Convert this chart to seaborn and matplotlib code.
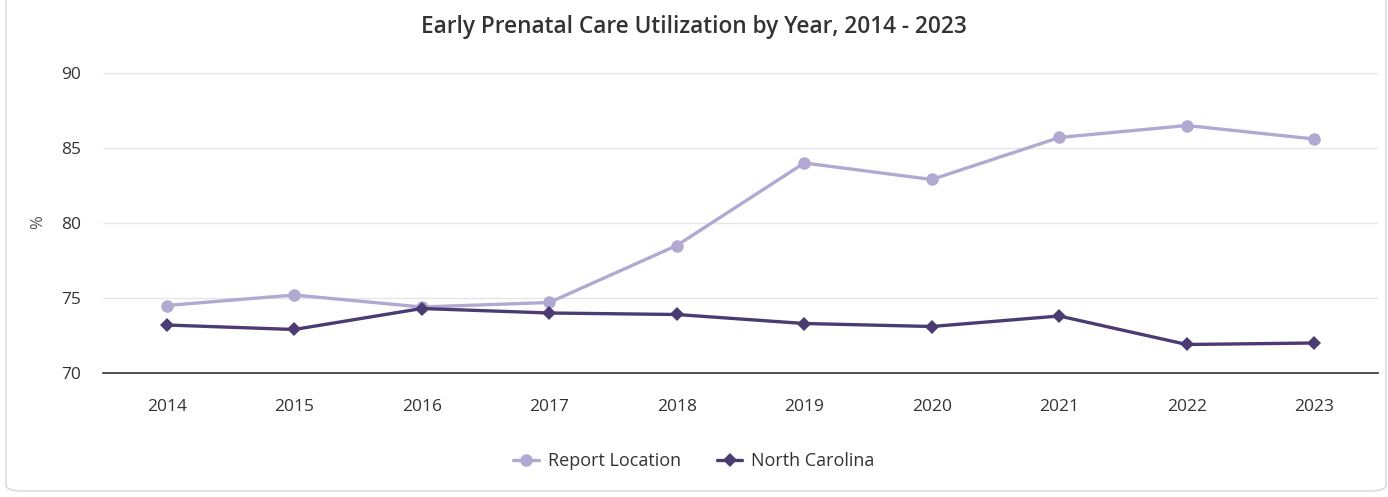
import matplotlib
matplotlib.use("Agg")
import matplotlib.pyplot as plt
from matplotlib.patches import FancyBboxPatch
from matplotlib.lines import Line2D
import seaborn as sns
import pandas as pd

years = ["2014", "2015", "2016", "2017", "2018", "2019", "2020", "2021", "2022", "2023"]
report_location = [74.5, 75.2, 74.4, 74.7, 78.5, 84.0, 82.9, 85.7, 86.5, 85.6]
north_carolina = [73.2, 72.9, 74.3, 74.0, 73.9, 73.3, 73.1, 73.8, 71.9, 72.0]
series_names = ["Report Location", "North Carolina"]
y_ticks = [70, 75, 80, 85, 90]
title = "Early Prenatal Care Utilization by Year, 2014 - 2023"

colors = {"Report Location": "#b2a9d2", "North Carolina": "#4a3c72"}
markers = {"Report Location": "o", "North Carolina": "D"}
msizes = {"Report Location": 9, "North Carolina": 7}

sns.set_theme(style="white")
plt.rcParams["font.family"] = ["Open Sans", "DejaVu Sans"]

df = pd.DataFrame({
    "Year": years * 2,
    "Value": report_location + north_carolina,
    "Series": [series_names[0]] * len(years) + [series_names[1]] * len(years),
})

fig = plt.figure(figsize=(13.88, 4.97), dpi=100)
ax = fig.add_axes([103 / 1388, 1 - 373 / 497, 1275 / 1388, 300 / 497])

fig.patches.append(FancyBboxPatch((6 / 1388, 6 / 497), 1380 / 1388, 500 / 497,
                                  boxstyle="round,pad=0,rounding_size=0.012",
                                  transform=fig.transFigure, facecolor="none",
                                  edgecolor="#dddddd", linewidth=1.2, zorder=-1))

for name in series_names:
    sub = df[df["Series"] == name]
    sns.lineplot(data=sub, x="Year", y="Value", ax=ax, color=colors[name],
                 marker=markers[name], markersize=msizes[name],
                 markeredgewidth=0, linewidth=2.4, sort=False, legend=False)

ax.set_xlim(-0.5, len(years) - 0.5)
ax.set_ylim(70, 90)
ax.set_yticks(y_ticks)
ax.yaxis.grid(True, color="#e6e6e6", linewidth=1)
ax.set_axisbelow(True)
for s in ["top", "right", "left"]:
    ax.spines[s].set_visible(False)
ax.spines["bottom"].set_color("#333333")
ax.spines["bottom"].set_linewidth(1.2)
ax.tick_params(axis="y", length=0, pad=16, labelsize=12.5, labelcolor="#333333")
ax.tick_params(axis="x", length=0, pad=19, labelsize=12.5, labelcolor="#333333")
ax.set_xlabel("")
ax.set_ylabel("%", fontsize=12, color="#555555")
ax.yaxis.set_label_coords(-57 / 1275, 151 / 300)

fig.text(0.5, 1 - 27 / 497, title, ha="center", va="center", fontsize=16.3,
         fontweight="semibold", color="#333333")

handles = [Line2D([0], [0], color=colors[n], marker=markers[n], linewidth=2.4,
                  markersize=msizes[n], markeredgewidth=0)
           for n in series_names]
fig.legend(handles, series_names, loc="center", bbox_to_anchor=(0.5, 1 - 461 / 497),
           ncol=2, frameon=False, fontsize=13, handlelength=1.4, columnspacing=2.0,
           handletextpad=0.5, labelcolor="#333333")

fig.savefig("out.png", dpi=100)
